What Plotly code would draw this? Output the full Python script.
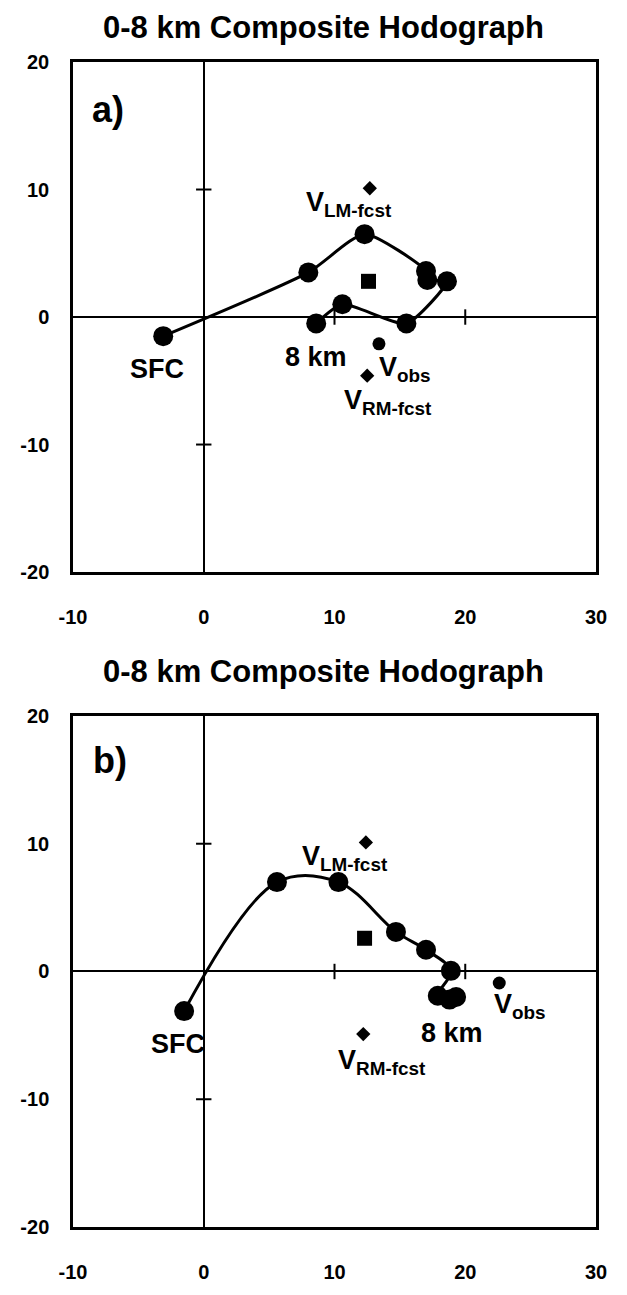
import plotly.graph_objects as go

# ---- data (u, v components, m/s) ----
a_u = [-3.1, 8.0, 12.3, 17.0, 17.1, 18.6, 15.5, 10.6, 8.6]
a_v = [-1.5, 3.5, 6.5, 3.6, 2.9, 2.8, -0.5, 1.0, -0.5]
a_mean = (12.6, 2.8)
a_lm = (12.7, 10.1)
a_rm = (12.5, -4.6)
a_obs = (13.4, -2.1)

b_u = [-1.5, 5.6, 10.3, 14.7, 17.0, 18.9, 17.9, 18.8, 19.3]
b_v = [-3.1, 7.0, 7.0, 3.1, 1.7, 0.05, -1.9, -2.2, -2.0]
b_mean = (12.3, 2.6)
b_lm = (12.4, 10.1)
b_rm = (12.2, -4.9)
b_obs = (22.6, -0.9)

x_ticks = [-10, 0, 10, 20, 30]
y_ticks = [-20, -10, 0, 10, 20]
title_text = "0-8 km Composite Hodograph"

FONT = "Liberation Sans, Arial, sans-serif"
OFF = 8  # default page body margin
W, H = 611, 1287
ML, MR, MT, MB = 59 - OFF, W - (604 - OFF), 62 - OFF, H - (1252 - OFF)

fig = go.Figure()

def add_panel(xref, yref, u, v, mean, lm, rm, obs, smooth):
    xt = [t for t in x_ticks if t not in (0, x_ticks[0], x_ticks[-1])]
    fig.add_trace(go.Scatter(x=xt, y=[0] * len(xt), xaxis=xref, yaxis=yref, mode="markers",
                             marker=dict(symbol="line-ns", size=11, line=dict(width=2, color="black")),
                             showlegend=False, hoverinfo="skip"))
    yt = [t for t in y_ticks if t not in (0, y_ticks[0], y_ticks[-1])]
    fig.add_trace(go.Scatter(x=[0] * len(yt), y=yt, xaxis=xref, yaxis=yref, mode="markers",
                             marker=dict(symbol="line-ew", size=11, line=dict(width=2, color="black")),
                             showlegend=False, hoverinfo="skip"))
    fig.add_trace(go.Scatter(x=u, y=v, xaxis=xref, yaxis=yref, mode="lines+markers",
                             line=dict(color="black", width=3, shape="spline", smoothing=smooth),
                             marker=dict(symbol="circle", size=20, color="black"),
                             showlegend=False))
    fig.add_trace(go.Scatter(x=[mean[0]], y=[mean[1]], xaxis=xref, yaxis=yref, mode="markers",
                             marker=dict(symbol="square", size=15, color="black"), showlegend=False))
    fig.add_trace(go.Scatter(x=[lm[0], rm[0]], y=[lm[1], rm[1]], xaxis=xref, yaxis=yref, mode="markers",
                             marker=dict(symbol="diamond", size=11, color="black"), showlegend=False))
    fig.add_trace(go.Scatter(x=[obs[0]], y=[obs[1]], xaxis=xref, yaxis=yref, mode="markers",
                             marker=dict(symbol="circle", size=13, color="black"), showlegend=False))

add_panel("x", "y", a_u, a_v, a_mean, a_lm, a_rm, a_obs, 0.6)
add_panel("x2", "y2", b_u, b_v, b_mean, b_lm, b_rm, b_obs, 1.0)

axis_common = dict(showgrid=False, zeroline=True, zerolinecolor="black", zerolinewidth=2,
                   showline=True, mirror=True, linecolor="black", linewidth=2.5,
                   ticks="", tickfont=dict(family=FONT, size=20, color="black", weight="bold"),
                   fixedrange=True)

plot_h = H - MT - MB
plot_w = W - ML - MR
def py(pix):  # page pixel row -> paper y
    return (H - MB - (pix - OFF)) / plot_h
def px(pix):  # page pixel column -> paper x
    return ((pix - OFF) - ML) / plot_w

top_a, bot_a = 1.0, py(583)
top_b, bot_b = py(730), 0.0

fig.update_layout(
    width=W, height=H,
    margin=dict(l=ML, r=MR, t=MT, b=MB),
    paper_bgcolor="white", plot_bgcolor="white",
    xaxis=dict(range=[-10, 30], domain=[0, 1], anchor="y", tickvals=x_ticks,
               ticktext=[str(t) for t in x_ticks], ticklabelstandoff=25, **axis_common),
    yaxis=dict(range=[-20, 20], domain=[bot_a, top_a], anchor="x", tickvals=y_ticks,
               ticktext=[str(t) for t in y_ticks], ticklabelstandoff=17, **axis_common),
    xaxis2=dict(range=[-10, 30], domain=[0, 1], anchor="y2", tickvals=x_ticks,
                ticktext=[str(t) for t in x_ticks], ticklabelstandoff=25, **axis_common),
    yaxis2=dict(range=[-20, 20], domain=[bot_b, top_b], anchor="x2", tickvals=y_ticks,
                ticktext=[str(t) for t in y_ticks], ticklabelstandoff=17, **axis_common),
    showlegend=False,
)

# titles
for yy in (27, 685):
    fig.add_annotation(x=px(320), y=py(yy), xref="paper", yref="paper",
                       text=title_text, showarrow=False, xanchor="center", yanchor="middle",
                       font=dict(family=FONT, size=31, color="black", weight="bold"))

def lab(text, x, y, xr, yr, size=27):
    fig.add_annotation(x=x, y=y, xref=xr, yref=yr, text=text, showarrow=False,
                       xanchor="center", yanchor="middle",
                       font=dict(family=FONT, size=size, color="black", weight="bold"))

# panel a labels
lab("a)", -7.3, 16.3, "x", "y", 36)
lab("V<sub>LM-fcst</sub>", 11.1, 8.9, "x", "y")
lab("SFC", -3.6, -4.1, "x", "y")
lab("8 km", 8.6, -3.1, "x", "y")
lab("V<sub>obs</sub>", 15.4, -4.1, "x", "y")
lab("V<sub>RM-fcst</sub>", 14.1, -6.7, "x", "y")

# panel b labels
lab("b)", -7.2, 16.5, "x2", "y2", 36)
lab("V<sub>LM-fcst</sub>", 10.8, 8.9, "x2", "y2")
lab("SFC", -1.95, -5.7, "x2", "y2")
lab("8 km", 19.0, -4.8, "x2", "y2")
lab("V<sub>obs</sub>", 24.2, -2.7, "x2", "y2")
lab("V<sub>RM-fcst</sub>", 13.6, -7.1, "x2", "y2")

fig.write_html("out.html")
